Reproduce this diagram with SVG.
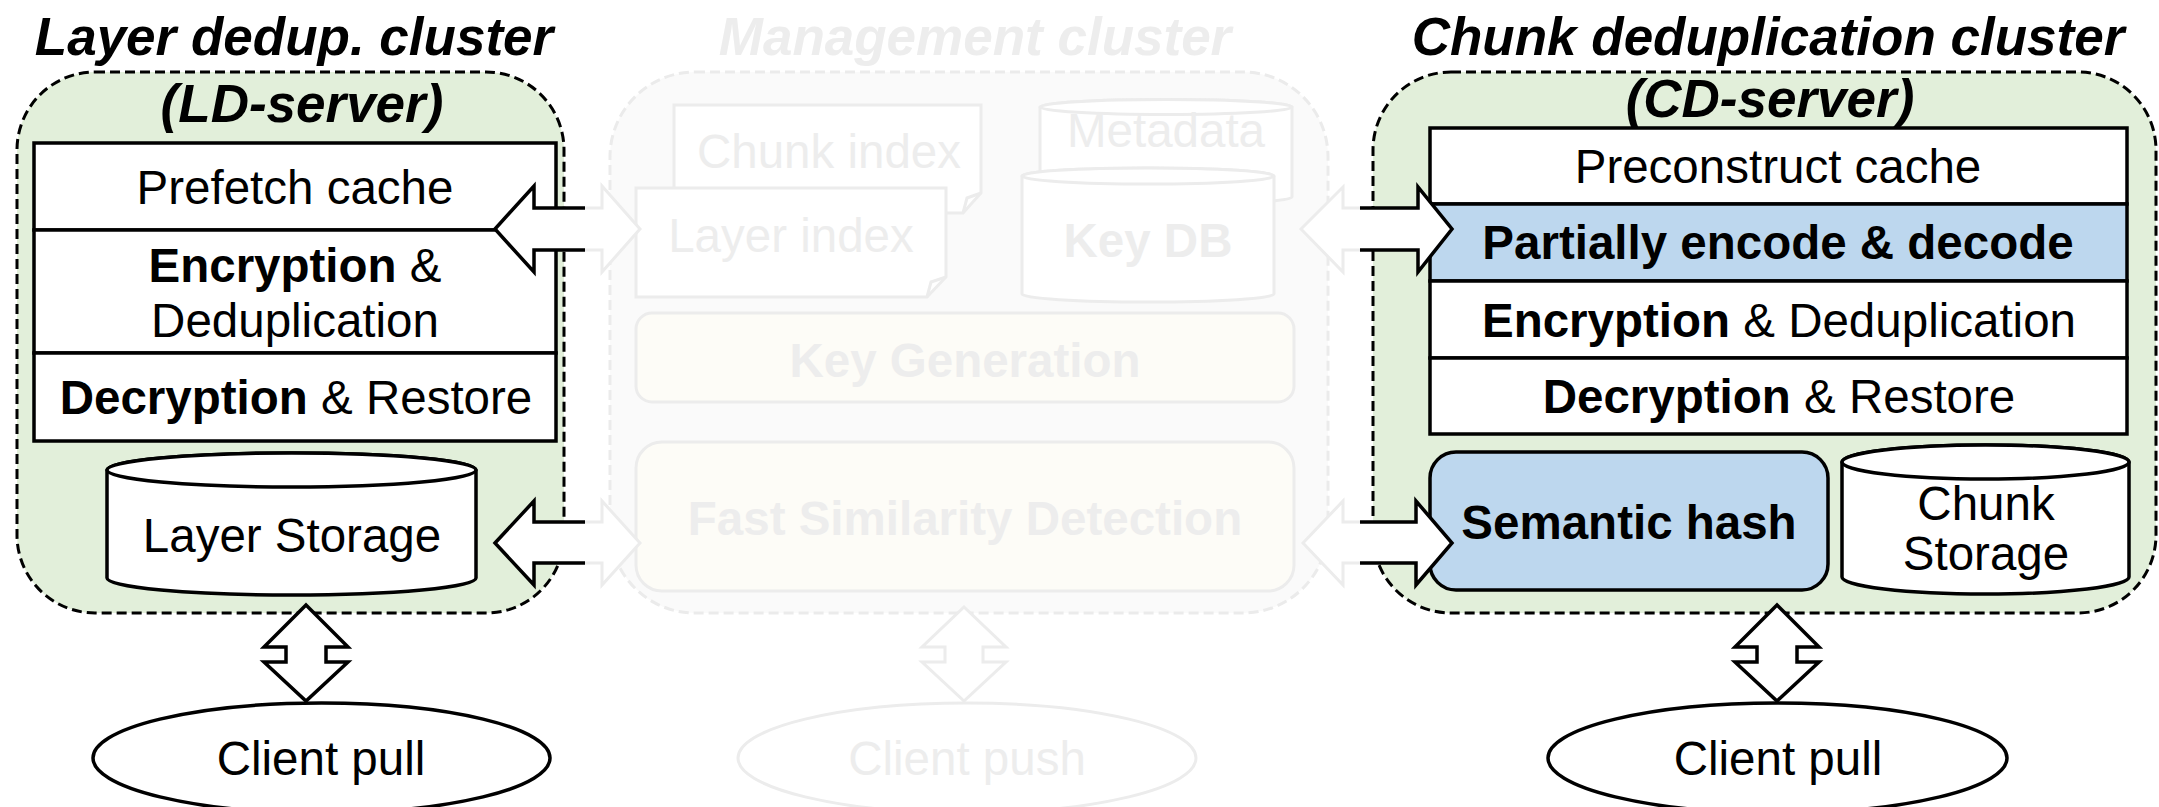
<svg xmlns="http://www.w3.org/2000/svg" width="2159" height="807" viewBox="0 0 2159 807">
  <defs>
    <style>
      text { font-family: "Liberation Sans", Arial, Helvetica, sans-serif; text-anchor: middle; fill: #000; }
      .title { font-size: 53px; font-weight: bold; font-style: italic; }
      .lbl { font-size: 47.5px; }
      .b { font-weight: bold; }
      .cluster { fill: #e2efda; stroke: #000; stroke-width: 3; stroke-dasharray: 10 5; }
      .box { fill: #fff; stroke: #000; stroke-width: 3.5; }
      .blue { fill: #bdd7ee; stroke: #000; stroke-width: 3.5; }
      .line { fill: none; stroke: #000; stroke-width: 3.5; }
      .arrow { fill: #fff; stroke: #000; stroke-width: 3.5; stroke-linejoin: miter; }
      .ghost-cluster { fill: #fafafa; stroke: #ebebeb; stroke-width: 3; stroke-dasharray: 10 5; }
      .ghost { fill: #fff; stroke: #ececec; stroke-width: 3; }
      .ghost-line { fill: none; stroke: #ececec; stroke-width: 3; }
      .ghost-soft { fill: #fdfcf7; stroke: #ececec; stroke-width: 3; }
      .ghost-arrow { fill: #fff; stroke: #ececec; stroke-width: 3; stroke-linejoin: miter; }
      text.ghost-text { fill: #ededed; }
    </style>
    <clipPath id="outer-zone">
      <rect x="0" y="0" width="585" height="807"/>
      <rect x="1360" y="0" width="799" height="807"/>
    </clipPath>
    <clipPath id="mid-zone">
      <rect x="585" y="0" width="775" height="807"/>
    </clipPath>
    <polygon id="dbl-h-top" points="495,229 534,186 534,208 602,208 602,186 640,229 602,272 602,250 534,250 534,272"/>
    <polygon id="dbl-h-bot" points="495,543 534,501 534,522 602,522 602,501 640,543 602,585 602,563 534,563 534,585"/>
    <polygon id="dbl-h-top-r" points="1301,229 1343,187 1343,208 1418,208 1418,187 1452,229 1418,272 1418,250 1343,250 1343,272"/>
    <polygon id="dbl-h-bot-r" points="1303,543 1343,501 1343,522 1416,522 1416,501 1452,543 1416,585 1416,563 1343,563 1343,585"/>
  </defs>

  <rect x="0" y="0" width="2159" height="807" fill="#fff"/>

  <!-- Management cluster (greyed out) -->
  <g id="mgmt-cluster">
    <text class="title ghost-text" x="975" y="55">Management cluster</text>
    <rect class="ghost-cluster" x="610" y="72" width="718" height="541" rx="85" ry="85"/>
  </g>
  <g id="mgmt-chunk-index">
    <path class="ghost" d="M674,105 H981 V193 L963,213 H674 Z"/>
    <path class="ghost-line" d="M981,193 L967,198 L963,213"/>
    <text class="lbl ghost-text" x="829" y="168">Chunk index</text>
  </g>
  <g id="mgmt-layer-index">
    <path class="ghost" d="M636,188 H946 V277 L927,297 H636 Z"/>
    <path class="ghost-line" d="M946,277 L931,282 L927,297"/>
    <text class="lbl ghost-text" x="791" y="252">Layer index</text>
  </g>
  <g id="mgmt-metadata">
    <path class="ghost" d="M1040,107 V197 A126,7.5 0 0 0 1292,197 V107 A126,7.5 0 0 0 1040,107 Z"/>
    <ellipse class="ghost" cx="1166" cy="107" rx="126" ry="7.5"/>
    <text class="lbl ghost-text" x="1166" y="147">Metadata</text>
  </g>
  <g id="mgmt-key-db">
    <path class="ghost" d="M1022,176 V294 A126,8 0 0 0 1274,294 V176 A126,8 0 0 0 1022,176 Z"/>
    <ellipse class="ghost" cx="1148" cy="176" rx="126" ry="8"/>
    <text class="lbl b ghost-text" x="1148" y="257">Key DB</text>
  </g>
  <g id="mgmt-key-generation">
    <rect class="ghost-soft" x="636" y="313" width="658" height="89" rx="16" ry="16"/>
    <text class="lbl b ghost-text" x="965" y="377">Key Generation</text>
  </g>
  <g id="mgmt-similarity">
    <rect class="ghost-soft" x="636" y="442" width="658" height="149" rx="26" ry="26"/>
    <text class="lbl b ghost-text" x="965" y="535">Fast Similarity Detection</text>
  </g>
  <g id="mgmt-client-push">
    <ellipse class="ghost" cx="967" cy="758" rx="229" ry="55"/>
    <text class="lbl ghost-text" x="967" y="775">Client push</text>
  </g>

  <!-- Layer dedup. cluster -->
  <g id="ld-cluster">
    <text class="title" x="294" y="55">Layer dedup. cluster</text>
    <rect class="cluster" x="17" y="72" width="547" height="541" rx="78" ry="78"/>
    <text class="title" x="302" y="122">(LD-server)</text>
  </g>
  <g id="ld-prefetch">
    <rect class="box" x="34" y="143" width="522" height="87"/>
    <text class="lbl" x="295" y="204">Prefetch cache</text>
  </g>
  <g id="ld-encrypt">
    <rect class="box" x="34" y="230" width="522" height="123"/>
    <text class="lbl" x="295" y="282"><tspan class="b">Encryption</tspan> &amp;</text>
    <text class="lbl" x="295" y="337">Deduplication</text>
  </g>
  <g id="ld-decrypt">
    <rect class="box" x="34" y="353" width="522" height="88"/>
    <text class="lbl" x="296" y="414"><tspan class="b">Decryption</tspan> &amp; Restore</text>
  </g>
  <g id="ld-storage">
    <path class="box" d="M107,470 V578 A184.5,17 0 0 0 476,578 V470 A184.5,17 0 0 0 107,470 Z"/>
    <ellipse class="box" cx="291.5" cy="470" rx="184.5" ry="17"/>
    <text class="lbl" x="292" y="552">Layer Storage</text>
  </g>
  <g id="ld-client-pull">
    <ellipse class="line" cx="321.5" cy="758" rx="228.5" ry="55" fill="#fff"/>
    <text class="lbl" x="321" y="775">Client pull</text>
  </g>

  <!-- Chunk deduplication cluster -->
  <g id="cd-cluster">
    <text class="title" x="1768" y="55">Chunk deduplication cluster</text>
    <rect class="cluster" x="1373" y="72" width="783" height="541" rx="78" ry="78"/>
    <text class="title" x="1770" y="117">(CD-server)</text>
  </g>
  <g id="cd-preconstruct">
    <rect class="box" x="1430" y="128" width="697" height="76"/>
    <text class="lbl" x="1778" y="183">Preconstruct cache</text>
  </g>
  <g id="cd-partial">
    <rect class="blue" x="1430" y="204" width="697" height="77"/>
    <text class="lbl b" x="1778" y="259">Partially encode &amp; decode</text>
  </g>
  <g id="cd-encrypt">
    <rect class="box" x="1430" y="281" width="697" height="77"/>
    <text class="lbl" x="1779" y="337"><tspan class="b">Encryption</tspan> &amp; Deduplication</text>
  </g>
  <g id="cd-decrypt">
    <rect class="box" x="1430" y="358" width="697" height="76"/>
    <text class="lbl" x="1779" y="413"><tspan class="b">Decryption</tspan> &amp; Restore</text>
  </g>
  <g id="cd-semantic-hash">
    <rect class="blue" x="1430" y="452" width="398" height="138" rx="26" ry="26"/>
    <text class="lbl b" x="1629" y="539">Semantic hash</text>
  </g>
  <g id="cd-chunk-storage">
    <path class="box" d="M1842,462 V577 A143.5,17 0 0 0 2129,577 V462 A143.5,17 0 0 0 1842,462 Z"/>
    <ellipse class="box" cx="1985.5" cy="462" rx="143.5" ry="17"/>
    <text class="lbl" x="1986" y="520">Chunk</text>
    <text class="lbl" x="1986" y="570">Storage</text>
  </g>
  <g id="cd-client-pull">
    <ellipse class="line" cx="1777.5" cy="758" rx="229.5" ry="55" fill="#fff"/>
    <text class="lbl" x="1778" y="775">Client pull</text>
  </g>

  <!-- Connectors: block double arrows -->
  <g id="connectors">
    <g clip-path="url(#outer-zone)">
      <use href="#dbl-h-top" class="arrow"/>
      <use href="#dbl-h-bot" class="arrow"/>
      <use href="#dbl-h-top-r" class="arrow"/>
      <use href="#dbl-h-bot-r" class="arrow"/>
    </g>
    <g clip-path="url(#mid-zone)">
      <use href="#dbl-h-top" class="ghost-arrow"/>
      <use href="#dbl-h-bot" class="ghost-arrow"/>
      <use href="#dbl-h-top-r" class="ghost-arrow"/>
      <use href="#dbl-h-bot-r" class="ghost-arrow"/>
    </g>
    <polygon class="arrow" points="306,605 348,647 326,647 326,662 348,662 306,701 264,662 286,662 286,647 264,647"/>
    <polygon class="ghost-arrow" points="964,607 1006,647 983,647 983,662 1006,662 964,701 922,662 945,662 945,647 922,647"/>
    <polygon class="arrow" points="1777,605 1819,647 1797,647 1797,662 1819,662 1777,701 1735,662 1757,662 1757,647 1735,647"/>
  </g>
</svg>
